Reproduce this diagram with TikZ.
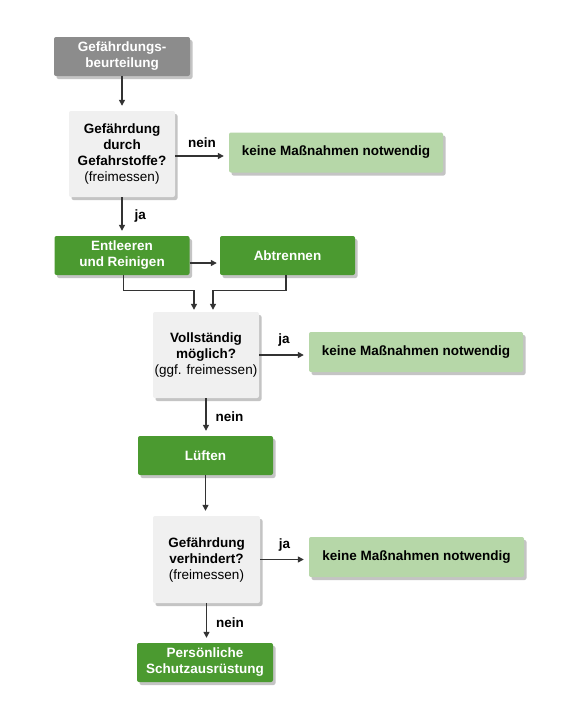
\documentclass[tikz,border=0pt]{standalone}
\usepackage{fontspec}
\setmainfont{Liberation Sans}
\usetikzlibrary{arrows.meta,shadows}
\definecolor{boxdark}{HTML}{8C8C8C}
\definecolor{boxlight}{HTML}{F0F0F0}
\definecolor{boxgreen}{HTML}{4B9A30}
\definecolor{boxpale}{HTML}{B6D7A8}
\definecolor{linecol}{HTML}{333333}
\definecolor{shadowcol}{HTML}{C4C4C4}
\begin{document}
\begin{tikzpicture}[x=1pt,y=-1pt,
  box/.style={rounded corners=2pt, inner sep=0pt, align=center,
    font=\fontsize{13.5}{16}\selectfont\bfseries,
    general shadow={fill=shadowcol, shadow xshift=2.5pt, shadow yshift=-3pt}},
  darkbox/.style={box, fill=boxdark, text=white, minimum width=136pt, minimum height=39pt},
  greenbox/.style={box, fill=boxgreen, text=white, minimum width=135pt, minimum height=39pt},
  qbox/.style={box, fill=boxlight, text=black, minimum width=106pt, minimum height=86pt},
  palebox/.style={box, fill=boxpale, text=black, minimum width=214pt, minimum height=40pt},
  arr/.style={draw=linecol, line width=1.3pt, -{Triangle[length=6pt,width=6pt]}, shorten >=5pt},
  lbl/.style={font=\fontsize{13.5}{16}\selectfont\bfseries, text=black, inner sep=0pt}
]
\fill[white] (0,0) rectangle (587,704);
\useasboundingbox (0,0) rectangle (587,704);

\node[darkbox] (b1) at (122,56.5) {Gefährdungs-\\beurteilung};
\node[qbox] (b2) at (122,154) {Gefährdung\\durch\\Gefahrstoffe?\\{\mdseries(freimessen)}};
\node[palebox] (k1) at (336,152.5) {keine Maßnahmen notwendig};
\node[greenbox] (ent) at (122,255.5) {Entleeren\\und Reinigen};
\node[greenbox] (abt) at (287.5,255.5) {Abtrennen};
\node[qbox] (voll) at (206,355) {Vollständig\\möglich?\\{\mdseries(ggf. freimessen)}};
\node[palebox] (k2) at (416,352) {keine Maßnahmen notwendig};
\node[greenbox] (lu) at (205.5,455.5) {Lüften};
\node[qbox, minimum width=107pt, minimum height=87pt] (ver) at (206.5,559.5) {Gefährdung\\verhindert?\\{\mdseries(freimessen)}};
\node[palebox, minimum width=215pt] (k3) at (416.5,557) {keine Maßnahmen notwendig};
\node[greenbox, minimum width=136pt] (psa) at (205,662.5) {Persönliche\\Schutzausrüstung};

\draw[arr] (b1.south) -- (b2.north);
\draw[arr] ([yshift=-2pt]b2.east) -- node[lbl, above=8pt]{nein} ([yshift=-2pt]b2.east -| k1.west);
\draw[arr] (b2.south) -- node[lbl, anchor=west, xshift=12pt]{ja} (ent.north);
\draw[arr, shorten >=3pt] ([yshift=-7.5pt]ent.east) -- ([yshift=-7.5pt]abt.west);
\draw[arr, shorten >=2pt] ([xshift=1.5pt]ent.south) -- ++(0,15) -| ([xshift=-12pt]voll.north);
\draw[arr, shorten >=2pt] ([xshift=-1.5pt]abt.south) -- ++(0,15) -| ([xshift=7pt]voll.north);
\draw[arr] (voll.east) -- node[lbl, above=8pt]{ja} (voll.east -| k2.west);
\draw[arr] (voll.south) -- node[lbl, anchor=west, xshift=9pt]{nein} (voll.south |- lu.north);
\draw[arr] (lu.south) -- (lu.south |- ver.north);
\draw[arr] (ver.east) -- node[lbl, above=8pt]{ja} (ver.east -| k3.west);
\draw[arr] (ver.south) -- node[lbl, anchor=west, xshift=9pt]{nein} (ver.south |- psa.north);
\end{tikzpicture}
\end{document}
